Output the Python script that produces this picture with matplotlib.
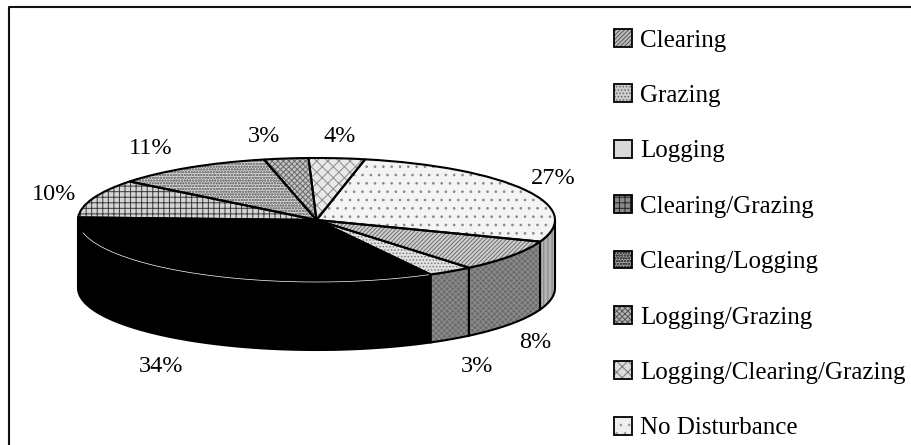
import numpy as np
import matplotlib
matplotlib.use("Agg")
import matplotlib.pyplot as plt
from matplotlib.lines import Line2D
from matplotlib.patches import Patch
from matplotlib.legend_handler import HandlerTuple

plt.rcParams['font.family'] = ['Liberation Serif', 'DejaVu Serif']
plt.rcParams['hatch.linewidth'] = 0.7

# legend order, clockwise round the pie
names = ['Clearing', 'Grazing', 'Logging', 'Clearing/Grazing', 'Clearing/Logging',
         'Logging/Grazing', 'Logging/Clearing/Grazing', 'No Disturbance']
values = [8.3, 3.1, 33.6, 10.0, 10.8, 3.0, 3.8, 27.4]

topColors = ['#cfcfcf', '#e2e2e2', '#000000', '#d4d4d4', '#d8d8d8', '#c4c4c4', '#e8e8e8', '#f4f4f4']
hatchColors = ['#6e6e6e', '#7a7a7a', '#000000', '#3a3a3a', '#808080', '#6a6a6a', '#8c8c8c', '#8a8a8a']
hatches = ['////////', '.....', '', '+++', 'oooooo', 'xxxxxx', 'xxx', '..']
sideColors = ['#6c6c6c', '#6c6c6c', '#000000', '#505050', '#606060', '#5c5c5c', '#707070', '#b4b4b4']
sideHatchColors = ['#8e8e8e', '#8e8e8e', '#000000', '#505050', '#606060', '#5c5c5c', '#707070', '#808080']
sideHatches = ['xxxxxx', 'xxxxxx', '', '', '', '', '', '||||']
handleColors = ['#bdbdbd', '#cdcdcd', '#d8d8d8', '#8a8a8a', '#a8a8a8', '#b4b4b4', '#dcdcdc', '#eeeeee']
handleHatchColors = ['#555555', '#666666', '#d8d8d8', '#222222', '#444444', '#555555', '#777777', '#999999']

# pie geometry in pixels of the 911x445 picture
W, H = 911, 445
cx, cy, rx, ry, depth = 316.5, 220, 238.5, 62, 68
startAngle = -20.4

fig = plt.figure(figsize=(W/100, H/100), dpi=100)
ax = fig.add_axes([0, 0, 1, 1])

# frame: only the left and top sides show, the rest is cropped away
fig.add_artist(Line2D([8.5/W, 8.5/W, 1], [0, 1 - 7/H, 1 - 7/H], color='#111111', linewidth=1.5))

# top of the pie
wedges, _ = ax.pie(values, colors=topColors, hatch=hatches, startangle=startAngle, counterclock=False,
                   radius=1, center=(0, 0), wedgeprops={'linewidth': 0})
for w, hc in zip(wedges, hatchColors):
    w.set_edgecolor(hc)
    w.set_linewidth(0)
    w.set_zorder(3)
outline, _ = ax.pie(values, colors=['none']*8, startangle=startAngle, counterclock=False, radius=1,
                    center=(0, 0), wedgeprops={'linewidth': 1.5, 'edgecolor': 'black'})
for w in outline:
    w.set_zorder(4)

ax.set_aspect('auto')
ax.set_xlim(-cx/rx, (W - cx)/rx)
ax.set_ylim(-(H - cy)/ry, cy/ry)
ax.axis('off')

# side wall, only the part of each slice that faces the viewer
d = depth/ry
a = startAngle
for v, col, hc, hat in zip(values, sideColors, sideHatchColors, sideHatches):
    a1 = a - v*3.6
    hi, lo = a, a1
    a = a1
    if hi < -180:
        hi, lo = hi + 360, lo + 360
    hi, lo = min(hi, 0), max(lo, -180)
    if hi <= lo:
        continue
    t = np.radians(np.linspace(hi, lo, 60))
    xs = np.concatenate([np.cos(t), np.cos(t[::-1])])
    ys = np.concatenate([np.sin(t), np.sin(t[::-1]) - d])
    ax.fill(xs, ys, facecolor=col, edgecolor=hc, hatch=hat, linewidth=0, zorder=2)
    ax.fill(xs, ys, facecolor='none', edgecolor='black', linewidth=1.5, zorder=2.5)

# thin white seam between black top and black side of Logging
t = np.radians(np.linspace(-62, -168, 60))
ax.plot(np.cos(t), np.sin(t), color='white', linewidth=0.5, zorder=5)

# percent labels
labelPos = [(535, 343), (477, 366), (161, 366), (54, 195), (151, 148), (264, 137), (340, 137), (553, 178)]
for v, (x, y) in zip(values, labelPos):
    fig.text(x/W, 1 - y/H, '%d%%' % round(v), fontsize=17.5, ha='center', va='center')

handles = [(Patch(facecolor=c, edgecolor=hc, hatch=h, linewidth=0),
            Patch(facecolor='none', edgecolor='black', linewidth=1.3))
           for c, hc, h in zip(handleColors, handleHatchColors, hatches)]
fig.legend(handles, names, loc='upper left', bbox_to_anchor=(614/W, 1 - 29/H), frameon=False,
           handler_map={tuple: HandlerTuple(ndivide=1, pad=0)},
           fontsize=18, handlelength=0.72, handleheight=0.72, handletextpad=0.32, labelspacing=1.31,
           borderpad=0, borderaxespad=0)

fig.savefig('out.png', dpi=100)
